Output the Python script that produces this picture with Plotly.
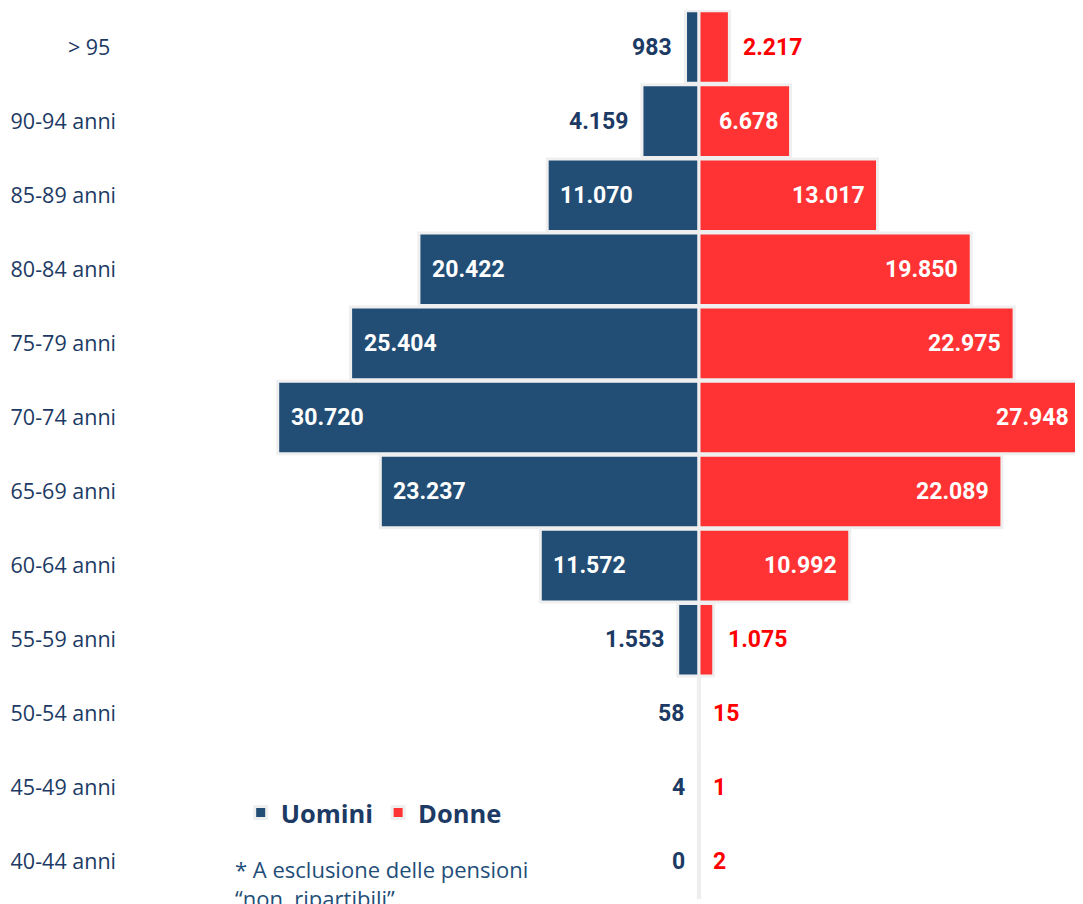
import plotly.graph_objects as go

# ---- data (top to bottom) ----
categories = ["> 95 ", "90-94 anni", "85-89 anni", "80-84 anni", "75-79 anni", "70-74 anni",
              "65-69 anni", "60-64 anni", "55-59 anni", "50-54 anni", "45-49 anni", "40-44 anni"]
uomini = [983, 4159, 11070, 20422, 25404, 30720, 23237, 11572, 1553, 58, 4, 0]
donne = [2217, 6678, 13017, 19850, 22975, 27948, 22089, 10992, 1075, 15, 1, 2]

MEN_COLOR = "#224e76"
WOMEN_COLOR = "#ff3333"
BORDER = "#efefef"
NAVY = "#1c3a64"
RED_TXT = "#ff0000"
INSIDE_MIN = 5000


def fmt(v):
    return f"{v:,}".replace(",", ".")


fig = go.Figure()
fig.add_trace(go.Bar(
    y=categories, x=[-v for v in uomini], orientation="h", name="<b>Uomini</b>",
    marker=dict(color=MEN_COLOR, line=dict(color=BORDER, width=3)),
    customdata=uomini, hovertemplate="%{y}: %{customdata}<extra>Uomini</extra>",
))
fig.add_trace(go.Bar(
    y=categories, x=donne, orientation="h", name="<b>Donne</b>",
    marker=dict(color=WOMEN_COLOR, line=dict(color=BORDER, width=3)),
    hovertemplate="%{y}: %{x}<extra>Donne</extra>",
))

label_font = dict(family="Roboto, Arial, sans-serif", size=23)
annotations = []
for cat, m, w in zip(categories, uomini, donne):
    if m >= INSIDE_MIN:
        annotations.append(dict(x=-m, y=cat, xref="x", yref="y", text=f"<b>{fmt(m)}</b>",
                                showarrow=False, xanchor="left", xshift=11,
                                font=dict(label_font, color="white")))
    else:
        annotations.append(dict(x=-m, y=cat, xref="x", yref="y", text=f"<b>{fmt(m)}</b>",
                                showarrow=False, xanchor="right", xshift=-12,
                                font=dict(label_font, color=NAVY)))
    if w >= INSIDE_MIN:
        annotations.append(dict(x=w, y=cat, xref="x", yref="y", text=f"<b>{fmt(w)}</b>",
                                showarrow=False, xanchor="right", xshift=-11,
                                font=dict(label_font, color="white")))
    else:
        annotations.append(dict(x=w, y=cat, xref="x", yref="y", text=f"<b>{fmt(w)}</b>",
                                showarrow=False, xanchor="left", xshift=12,
                                font=dict(label_font, color=RED_TXT)))

annotations.append(dict(
    x=0.1156, y=0.0524, xref="paper", yref="paper", xanchor="left", yanchor="top",
    align="left", showarrow=False,
    text="* A esclusione delle pensioni<br>\u201cnon\u00a0 ripartibili\u201d.",
    font=dict(family="Open Sans, sans-serif", size=22, color="#1f4e79"),
))

# page body has an 8px margin: figure is placed at (8, 8)
fig.update_layout(
    width=1075, height=896,
    margin=dict(l=114, r=0, t=2, b=5),
    paper_bgcolor="white", plot_bgcolor="white",
    barmode="relative", bargap=0.02,
    showlegend=True,
    legend=dict(orientation="h", x=0.1235, y=0.0967, xanchor="left", yanchor="middle",
                font=dict(family="Open Sans, sans-serif", size=25.5, color=NAVY),
                itemclick=False, bgcolor="rgba(0,0,0,0)", tracegroupgap=0),
    annotations=annotations,
    xaxis=dict(range=[-42073, 28000], showticklabels=False, showgrid=False,
               zeroline=True, zerolinecolor="#e8e8e8", zerolinewidth=4, fixedrange=True),
    yaxis=dict(autorange="reversed", showgrid=False, ticks="", ticklabelstandoff=5,
               tickfont=dict(family="Open Sans, sans-serif", size=21.5, color=NAVY)),
)

fig.write_html("out.html")
